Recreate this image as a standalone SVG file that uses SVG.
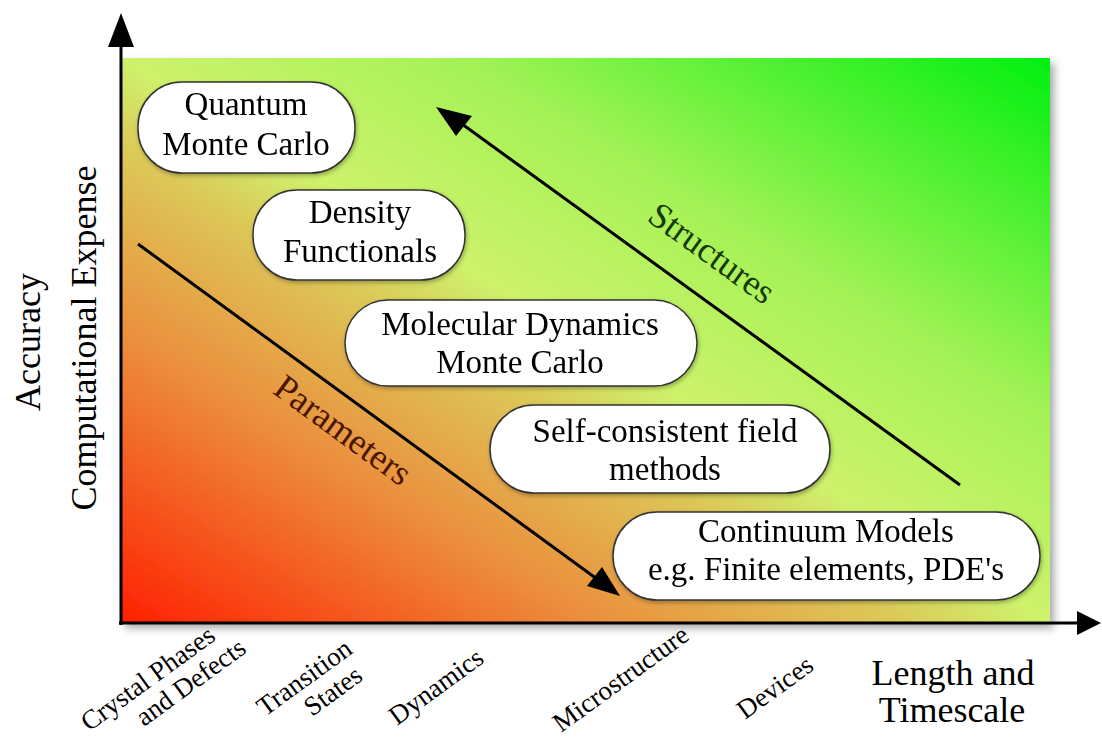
<svg xmlns="http://www.w3.org/2000/svg" width="1102" height="742" viewBox="0 0 1102 742">
<defs>
<linearGradient id="bg" x1="0" y1="1" x2="1" y2="0">
<stop offset="0" stop-color="#ff2000"/>
<stop offset="0.25" stop-color="#ec8c3c"/>
<stop offset="0.42" stop-color="#dcc858"/>
<stop offset="0.5" stop-color="#cef26c"/>
<stop offset="0.68" stop-color="#a4f256"/>
<stop offset="1" stop-color="#00f010"/>
</linearGradient>
<filter id="sh" x="-5%" y="-5%" width="115%" height="115%">
<feDropShadow dx="4" dy="5" stdDeviation="4" flood-color="#000" flood-opacity="0.35"/>
</filter>
<filter id="nsh" x="-5%" y="-5%" width="115%" height="120%">
<feDropShadow dx="1" dy="2" stdDeviation="2" flood-color="#000" flood-opacity="0.3"/>
</filter>
</defs>
<style>
.node rect{fill:#fff;stroke:#333;stroke-width:1.5}
text{font-family:'Liberation Serif','Tinos','DejaVu Serif',serif}
.nt{font-size:33px;fill:#000;text-anchor:middle}
.ax{font-size:36px;fill:#000;text-anchor:middle}
.tk{font-size:27px;fill:#000}
.ln{stroke:#000;stroke-width:3;fill:none}
.ah{fill:#000}
</style>
<g id="background">
<rect x="121" y="58" width="929" height="565" fill="url(#bg)" filter="url(#sh)"/>
</g>
<g id="connectors">
<line class="ln" x1="121" y1="625" x2="121" y2="44"/>
<polygon class="ah" points="121,13 108,47 134,47"/>
<line class="ln" x1="119" y1="623" x2="1080" y2="623"/>
<polygon class="ah" points="1101,623 1077,611 1077,635"/>
<line class="ln" x1="960" y1="485" x2="462" y2="124"/>
<polygon class="ah" points="436,107 472,116 456,136"/>
<line class="ln" x1="138" y1="244" x2="597" y2="579"/>
<polygon class="ah" points="620,596 602,567 587,586"/>
</g>
<g id="n-qmc" class="node" filter="url(#nsh)">
<rect x="138" y="82" width="217" height="91" rx="44" ry="44"/>
<text class="nt" x="246" y="115">Quantum</text>
<text class="nt" x="246" y="155">Monte Carlo</text>
</g>
<g id="n-dft" class="node" filter="url(#nsh)">
<rect x="253" y="190" width="212" height="90" rx="44" ry="44"/>
<text class="nt" x="360" y="223">Density</text>
<text class="nt" x="360" y="262">Functionals</text>
</g>
<g id="n-md" class="node" filter="url(#nsh)">
<rect x="345" y="300" width="352" height="86" rx="43" ry="43"/>
<text class="nt" x="520" y="335">Molecular Dynamics</text>
<text class="nt" x="520" y="373">Monte Carlo</text>
</g>
<g id="n-scf" class="node" filter="url(#nsh)">
<rect x="490" y="405" width="340" height="88" rx="44" ry="44"/>
<text class="nt" x="665" y="442">Self-consistent field</text>
<text class="nt" x="665" y="480">methods</text>
</g>
<g id="n-cont" class="node" filter="url(#nsh)">
<rect x="613" y="512" width="427" height="88" rx="44" ry="44"/>
<text class="nt" x="826" y="542">Continuum Models</text>
<text class="nt" x="826" y="580">e.g. Finite elements, PDE's</text>
</g>
<g id="labels">
<text class="ax" font-size="34" transform="translate(712,253) rotate(35.9)" y="12" style="fill:#163a05">Structures</text>
<text class="ax" font-size="34" transform="translate(343,430) rotate(36.2)" y="12" style="fill:#4a1603">Parameters</text>
<text class="ax" font-size="38" transform="translate(40,342) rotate(-90)">Accuracy</text>
<text class="ax" transform="translate(96,338) rotate(-90)">Computational Expense</text>
<text class="ax" font-size="34" x="953" y="685">Length and</text>
<text class="ax" font-size="34" x="952" y="722">Timescale</text>
<text class="tk" transform="translate(89,732) rotate(-36)">Crystal Phases</text>
<text class="tk" transform="translate(144,727) rotate(-36)">and Defects</text>
<text class="tk" transform="translate(265,717) rotate(-36)">Transition</text>
<text class="tk" transform="translate(312,717) rotate(-36)">States</text>
<text class="tk" transform="translate(397,726) rotate(-36)">Dynamics</text>
<text class="tk" transform="translate(561,733) rotate(-36)">Microstructure</text>
<text class="tk" transform="translate(745,720) rotate(-36)">Devices</text>
</g>
</svg>
